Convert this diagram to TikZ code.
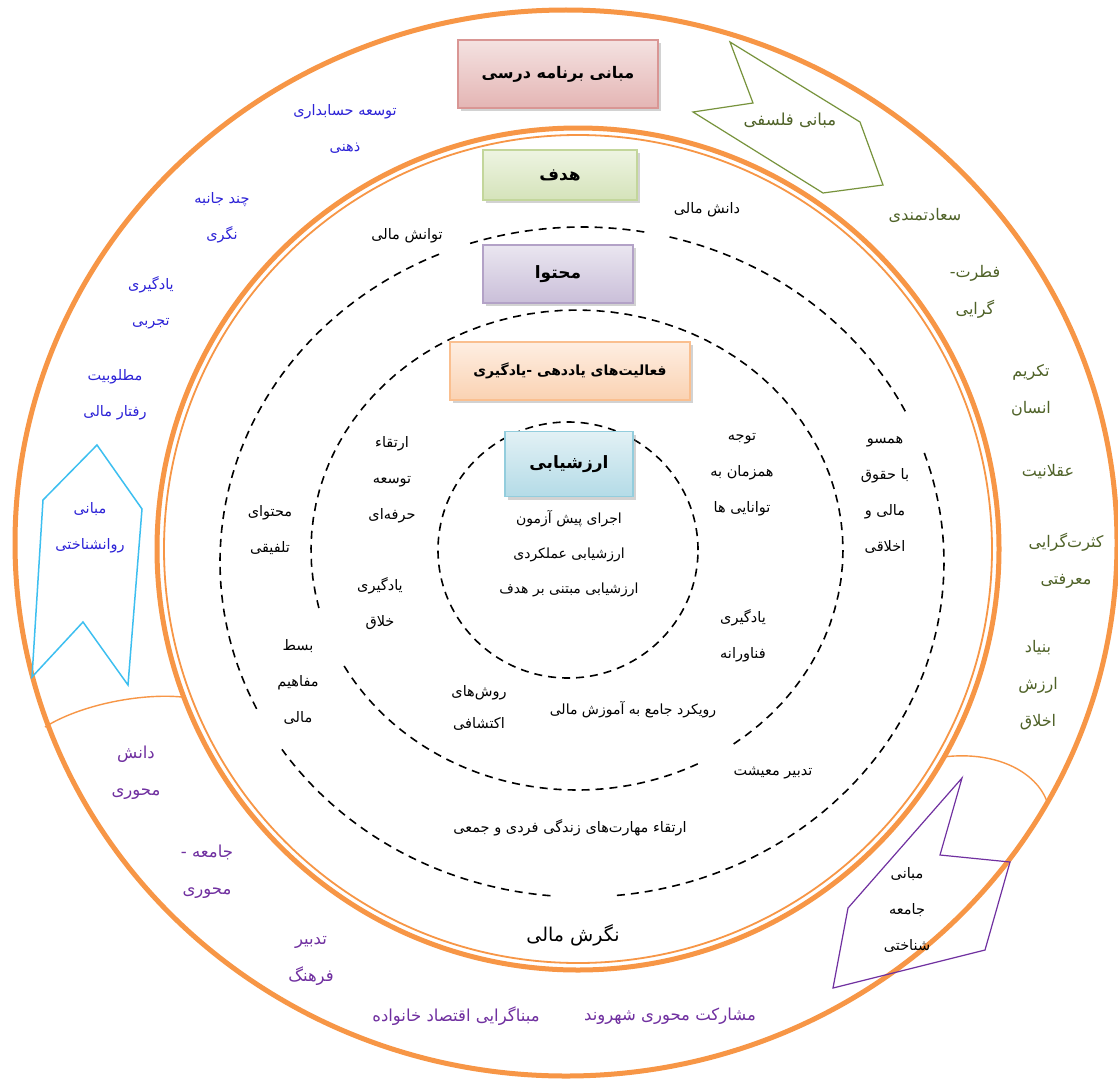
\documentclass[tikz,border=0pt]{standalone}
\usepackage{fontspec}
\usetikzlibrary{shadows}
\TeXXeTstate=1
\newfontfamily\arabicfont[Script=Arabic]{DejaVu Sans}
\newcommand{\fatext}[1]{\beginR #1\endR}

\definecolor{ringorange}{HTML}{F79646}
\definecolor{bluetext}{RGB}{45,35,215}
\definecolor{purpletext}{HTML}{7030A0}
\definecolor{olivetext}{HTML}{4F6228}
\definecolor{arrowgreen}{HTML}{77933C}
\definecolor{arrowblue}{HTML}{3DBFF0}
\definecolor{progtop}{HTML}{F4E2E1}
\definecolor{progbot}{HTML}{E4B5B4}
\definecolor{progline}{HTML}{D99694}
\definecolor{goaltop}{HTML}{EEF4E2}
\definecolor{goalbot}{HTML}{D5E3BA}
\definecolor{goalline}{HTML}{C3D69B}
\definecolor{conttop}{HTML}{EAE6F0}
\definecolor{contbot}{HTML}{CABFD9}
\definecolor{contline}{HTML}{B3A2C7}
\definecolor{acttop}{HTML}{FEEEE2}
\definecolor{actbot}{HTML}{FAD2B2}
\definecolor{actline}{HTML}{FABF8F}
\definecolor{evaltop}{HTML}{E2F1F5}
\definecolor{evalbot}{HTML}{B4DBE7}
\definecolor{evalline}{HTML}{93CDDD}

\begin{document}
\begin{tikzpicture}[x=1pt, y=-1pt,
    lbl/.style={font=\arabicfont\fontsize{14.5}{36}\selectfont, align=center, inner sep=0pt},
    bluelbl/.style={lbl, text=bluetext},
    purplbl/.style={lbl, text=purpletext, font=\arabicfont\fontsize{16.5}{37}\selectfont},
    olivelbl/.style={lbl, text=olivetext, font=\arabicfont\fontsize{16}{37}\selectfont},
    boxlbl/.style={draw, line width=1.3pt, font=\arabicfont\bfseries\fontsize{17}{20}\selectfont,
        drop shadow={shadow xshift=3pt, shadow yshift=-3pt, opacity=0.35}},
    dashring/.style={line width=1.6pt, dash pattern=on 8pt off 6pt},
]
\useasboundingbox (0,0) rectangle (1118,1081);
\fill[white] (0,0) rectangle (1118,1081);

% orange rings
\draw[ringorange, line width=5pt] (566,543) ellipse [x radius=551pt, y radius=533pt];
\draw[ringorange, line width=5pt] (578,549) circle [radius=421pt];
\draw[ringorange, line width=1.8pt] (578,549) circle [radius=414pt];
\draw[ringorange, line width=1.4pt] (45,727) .. controls (80,705) and (140,693) .. (182,697);
\draw[ringorange, line width=1.4pt] (943,757) .. controls (1000,750) and (1040,775) .. (1048,805);

% dashed rings, with their gaps
\foreach \a/\b in {-108/-80, -76/-26, -19/85, 95/146, 154/247}
    \draw[dashring] plot[domain=\a:\b, samples=60] ({582+362*cos(\x)}, {562+335*sin(\x)});
\foreach \a/\b in {63/152, 166/414}
    \draw[dashring] plot[domain=\a:\b, samples=70] ({577+266*cos(\x)}, {550+240*sin(\x)});
\draw[dashring] (568,550) ellipse [x radius=130pt, y radius=128pt];

% foundations
\draw[arrowgreen, line width=1.2pt] (730,42) -- (753,103) -- (693,112) -- (823,193) -- (883,185) -- (860,122) -- cycle;
\draw[arrowblue, line width=1.5pt] (97,445) -- (142,509) -- (128,685) -- (83,622) -- (32,677) -- (43,500) -- cycle;
\draw[purpletext, line width=1.2pt] (962,778) -- (848,908) -- (833,988) -- (985,950) -- (1010,862) -- (940,855) -- cycle;

\node[olivelbl, font=\arabicfont\fontsize{16.5}{18}\selectfont] (phil) at (790,120) {\fatext{مبانی فلسفی}};
\node[bluelbl] (psych) at (90,528) {\fatext{مبانی}\\\fatext{روانشناختی}};
\node[lbl] (soc) at (907,910) {\fatext{مبانی}\\\fatext{جامعه}\\\fatext{شناختی}};

% boxes
\node[boxlbl, draw=progline, top color=progtop, bottom color=progbot, minimum width=200pt, minimum height=68pt, font=\arabicfont\bfseries\fontsize{16}{20}\selectfont] (prog) at (558,74) {\fatext{مبانی برنامه درسی}};
\node[boxlbl, draw=goalline, top color=goaltop, bottom color=goalbot, minimum width=154pt, minimum height=50pt] (goal) at (560,175) {\fatext{هدف}};
\node[boxlbl, draw=contline, top color=conttop, bottom color=contbot, minimum width=150pt, minimum height=58pt] (cont) at (558,274) {\fatext{محتوا}};
\node[boxlbl, draw=actline, top color=acttop, bottom color=actbot, minimum width=240pt, minimum height=58pt, font=\arabicfont\bfseries\fontsize{14}{16}\selectfont] (act) at (570,371) {\fatext{فعالیت‌های یاددهی -یادگیری}};
\node[boxlbl, draw=evalline, top color=evaltop, bottom color=evalbot, minimum width=128pt, minimum height=65pt] (eval) at (569,464) {\fatext{ارزشیابی}};

% outer ring, left
\node[bluelbl] (o1) at (345,129) {\fatext{توسعه حسابداری}\\\fatext{ذهنی}};
\node[bluelbl] (o2) at (222,218) {\fatext{چند جانبه}\\\fatext{نگری}};
\node[bluelbl] (o3) at (151,303) {\fatext{یادگیری}\\\fatext{تجربی}};
\node[bluelbl] (o4) at (115,395) {\fatext{مطلوبیت}\\\fatext{رفتار مالی}};

% outer ring, bottom
\node[purplbl] (p1) at (136,773) {\fatext{دانش}\\\fatext{محوری}};
\node[purplbl] (p2) at (207,872) {\fatext{جامعه -}\\\fatext{محوری}};
\node[purplbl] (p3) at (311,961) {\fatext{تدبیر}\\\fatext{فرهنگ}};
\node[purplbl] (p4) at (456,1016) {\fatext{مبناگرایی اقتصاد خانواده}};
\node[purplbl] (p5) at (670,1016) {\fatext{مشارکت محوری شهروند}};

% outer ring, right
\node[olivelbl] (r1) at (925,215) {\fatext{سعادتمندی}};
\node[olivelbl] (r2) at (975,292) {\fatext{فطرت-}\\\fatext{گرایی}};
\node[olivelbl] (r3) at (1031,390) {\fatext{تکریم}\\\fatext{انسان}};
\node[olivelbl] (r4) at (1048,472) {\fatext{عقلانیت}};
\node[olivelbl] (r5) at (1066,561) {\fatext{کثرت‌گرایی}\\\fatext{معرفتی}};
\node[olivelbl] (r6) at (1038,685) {\fatext{بنیاد}\\\fatext{ارزش}\\\fatext{اخلاق}};

% inside
\node[lbl] (i1) at (707,210) {\fatext{دانش مالی}};
\node[lbl] (i2) at (407,236) {\fatext{توانش مالی}};
\node[lbl] (i3) at (885,495) {\fatext{همسو}\\\fatext{با حقوق}\\\fatext{مالی و}\\\fatext{اخلاقی}};
\node[lbl] (i4) at (742,475) {\fatext{توجه}\\\fatext{همزمان به}\\\fatext{توانایی ها}};
\node[lbl] (i5) at (392,480) {\fatext{ارتقاء}\\\fatext{توسعه}\\\fatext{حرفه‌ای}};
\node[lbl] (i6) at (270,530) {\fatext{محتوای}\\\fatext{تلفیقی}};
\node[lbl] (i7) at (380,604) {\fatext{یادگیری}\\\fatext{خلاق}};
\node[lbl] (i8) at (298,682) {\fatext{بسط}\\\fatext{مفاهیم}\\\fatext{مالی}};
\node[lbl] (i9) at (743,636) {\fatext{یادگیری}\\\fatext{فناورانه}};
\node[lbl, font=\arabicfont\fontsize{14.5}{32}\selectfont] (i10) at (479,708) {\fatext{روش‌های}\\\fatext{اکتشافی}};
\node[lbl, font=\arabicfont\fontsize{14}{16}\selectfont] (i11) at (633,710) {\fatext{رویکرد جامع به آموزش مالی}};
\node[lbl, font=\arabicfont\fontsize{14}{35}\selectfont] (i12) at (569,554) {\fatext{اجرای پیش آزمون}\\\fatext{ارزشیابی عملکردی}\\\fatext{ارزشیابی مبتنی بر هدف}};
\node[lbl] (i13) at (773,773) {\fatext{تدبیر معیشت}};
\node[lbl] (i14) at (570,828) {\fatext{ارتقاء مهارت‌های زندگی فردی و جمعی}};
\node[lbl, font=\arabicfont\fontsize{19}{22}\selectfont] (i15) at (573,935) {\fatext{نگرش مالی}};
\end{tikzpicture}
\end{document}
